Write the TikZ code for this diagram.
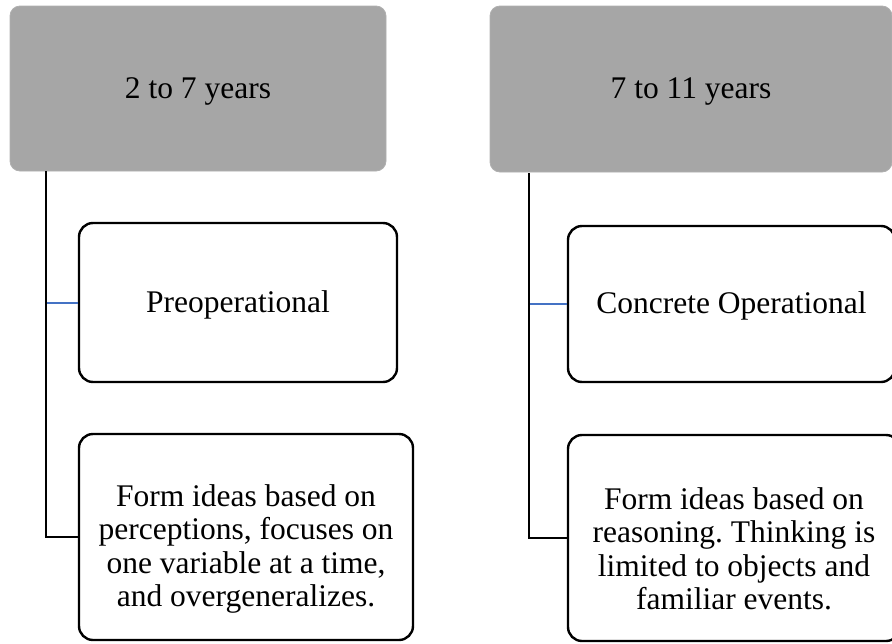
\documentclass[tikz,border=0pt]{standalone}
\usepackage{fontspec}
\setmainfont{Liberation Serif}
\frenchspacing
\newcommand{\lowstrut}[1]{\rule{0pt}{#1}}
\begin{document}
\begin{tikzpicture}[x=1pt,y=-1pt,
  agebox/.style={rectangle, rounded corners=10pt, fill=ageGray, draw=ageGray!90!white, line width=0.8pt, align=center, inner sep=0pt},
  stagebox/.style={rectangle, rounded corners=14pt, draw=black, fill=white, line width=2.4pt, align=center, inner sep=0pt},
  conn/.style={draw=black, line width=2.6pt},
  blueconn/.style={draw=lineBlue, line width=2pt},
  txt/.style={font=\fontsize{31.5}{33.5}\selectfont}]
\definecolor{ageGray}{HTML}{A6A6A6}
\definecolor{lineBlue}{HTML}{4472C4}
\useasboundingbox (0,0) rectangle (892,643);
% left column
\node[agebox, txt, minimum width=376pt, minimum height=165pt] (g1) at (198,88.5) {\lowstrut{26pt}2 to 7 years};
\node[stagebox, txt, minimum width=318pt, minimum height=159pt] (p1) at (238,302.5) {\lowstrut{27.5pt}Preoperational};
\node[stagebox, txt, minimum width=334pt, minimum height=206pt] (f1) at (246,537) {\lowstrut{46pt}Form ideas based on\\perceptions, focuses on\\one variable at a time,\\and overgeneralizes.};
\coordinate (t1) at (46,171);
\draw[blueconn] (p1.west) -- (p1.west -| t1);
\draw[conn] (t1) |- (f1.west);
% right column
\node[agebox, txt, minimum width=402pt, minimum height=166pt] (g2) at (691,89) {\lowstrut{26pt}7 to 11 years};
\node[stagebox, txt, minimum width=327pt, minimum height=156pt] (p2) at (731.5,304) {\lowstrut{26.5pt}Concrete Operational};
\node[stagebox, txt, minimum width=332pt, minimum height=206pt] (f2) at (734,538) {\lowstrut{43pt}Form ideas based on\\reasoning. Thinking is\\limited to objects and\\familiar events.};
\coordinate (t2) at (529,173);
\draw[blueconn] (p2.west) -- (p2.west -| t2);
\draw[conn] (t2) |- (f2.west);
\end{tikzpicture}
\end{document}
